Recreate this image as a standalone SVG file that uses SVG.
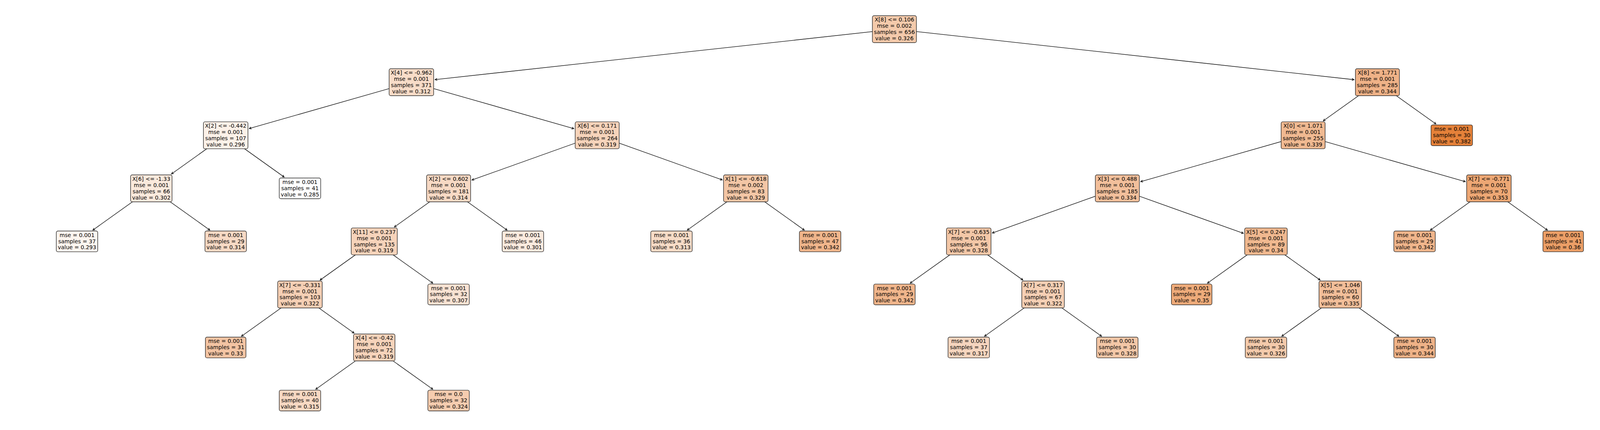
<svg xmlns="http://www.w3.org/2000/svg" width="4199" height="1101" viewBox="0 0 4199 1101">
<style>
.b{stroke:#2b2b2b;stroke-width:1.4}
.t{font-family:"DejaVu Sans","Liberation Sans",sans-serif;font-size:13.9px;text-anchor:middle;fill:#000}
.e{stroke:#000;stroke-width:1.3;fill:none;marker-end:url(#ah)}
</style>
<defs>
<marker id="ah" markerUnits="userSpaceOnUse" markerWidth="12" markerHeight="12" refX="0" refY="0" orient="auto" overflow="visible">
<path d="M-5.6,-2.8 L0,0 L-5.6,2.8" fill="none" stroke="#000" stroke-width="1.3"/>
</marker>
</defs>
<rect x="0" y="0" width="4199" height="1101" fill="#fff"/>
<g id="connectors">
<path class="e" d="M2289.7,74.7 L1113.66,203.91"/>
<path class="e" d="M2289.7,74.7 L3466.39,203.98"/>
<path class="e" d="M1053.2,210.55 L638.08,329.15"/>
<path class="e" d="M1053.2,210.55 L1469.08,329.34"/>
<path class="e" d="M577.7,346.4 L438.95,445.43"/>
<path class="e" d="M577.7,346.4 L727.48,453.38"/>
<path class="e" d="M387.4,482.25 L237.62,589.23"/>
<path class="e" d="M387.4,482.25 L537.28,589.23"/>
<path class="e" d="M1528.8,346.4 L1208.07,460.94"/>
<path class="e" d="M1528.8,346.4 L1848.98,460.71"/>
<path class="e" d="M1148.4,482.25 L1009.65,581.28"/>
<path class="e" d="M1148.4,482.25 L1298.18,589.23"/>
<path class="e" d="M958.1,618.1 L819.45,717.13"/>
<path class="e" d="M958.1,618.1 L1107.98,725.08"/>
<path class="e" d="M767.9,753.95 L618.12,860.93"/>
<path class="e" d="M767.9,753.95 L906.55,852.98"/>
<path class="e" d="M958.1,889.8 L808.32,996.78"/>
<path class="e" d="M958.1,889.8 L1107.98,996.78"/>
<path class="e" d="M1909.3,482.25 L1759.42,589.23"/>
<path class="e" d="M1909.3,482.25 L2059.08,589.23"/>
<path class="e" d="M3526.2,210.55 L3387.55,309.58"/>
<path class="e" d="M3526.2,210.55 L3676.08,317.53"/>
<path class="e" d="M3336,346.4 L2920.12,465.19"/>
<path class="e" d="M3336,346.4 L3751.23,465"/>
<path class="e" d="M2860.4,482.25 L2540.32,596.56"/>
<path class="e" d="M2860.4,482.25 L3183.08,597.45"/>
<path class="e" d="M2480,618.1 L2330.12,725.08"/>
<path class="e" d="M2480,618.1 L2618.65,717.13"/>
<path class="e" d="M2670.2,753.95 L2520.42,860.93"/>
<path class="e" d="M2670.2,753.95 L2819.98,860.93"/>
<path class="e" d="M3240.9,618.1 L3091.12,725.08"/>
<path class="e" d="M3240.9,618.1 L3379.55,717.13"/>
<path class="e" d="M3431.1,753.95 L3281.32,860.93"/>
<path class="e" d="M3431.1,753.95 L3580.88,860.93"/>
<path class="e" d="M3811.6,482.25 L3661.72,589.23"/>
<path class="e" d="M3811.6,482.25 L3961.38,589.23"/>
</g>
<g id="n0" transform="translate(2289.7,74.7)"><rect class="b" x="-56.35" y="-34.5" width="112.7" height="69" rx="4.2" fill="#f4caab"/><text class="t"><tspan x="0" y="-19.35">X[8] &lt;= 0.106</tspan><tspan x="0" y="-3.45">mse = 0.002</tspan><tspan x="0" y="12.45">samples = 656</tspan><tspan x="0" y="28.35">value = 0.326</tspan></text></g>
<g id="n1" transform="translate(1053.2,210.55)"><rect class="b" x="-57" y="-34.5" width="114" height="69" rx="4.2" fill="#f8dcc8"/><text class="t"><tspan x="0" y="-19.35">X[4] &lt;= -0.962</tspan><tspan x="0" y="-3.45">mse = 0.001</tspan><tspan x="0" y="12.45">samples = 371</tspan><tspan x="0" y="28.35">value = 0.312</tspan></text></g>
<g id="n2" transform="translate(577.7,346.4)"><rect class="b" x="-57" y="-34.5" width="114" height="69" rx="4.2" fill="#fcf1e8"/><text class="t"><tspan x="0" y="-19.35">X[2] &lt;= -0.442</tspan><tspan x="0" y="-3.45">mse = 0.001</tspan><tspan x="0" y="12.45">samples = 107</tspan><tspan x="0" y="28.35">value = 0.296</tspan></text></g>
<g id="n3" transform="translate(387.4,482.25)"><rect class="b" x="-53.05" y="-34.5" width="106.1" height="69" rx="4.2" fill="#fae9dc"/><text class="t"><tspan x="0" y="-19.35">X[6] &lt;= -1.33</tspan><tspan x="0" y="-3.45">mse = 0.001</tspan><tspan x="0" y="12.45">samples = 66</tspan><tspan x="0" y="28.35">value = 0.302</tspan></text></g>
<g id="n4" transform="translate(197.2,618.1)"><rect class="b" x="-53.05" y="-26.55" width="106.1" height="53.1" rx="4.2" fill="#fdf5ef"/><text class="t"><tspan x="0" y="-11.4">mse = 0.001</tspan><tspan x="0" y="4.5">samples = 37</tspan><tspan x="0" y="20.4">value = 0.293</tspan></text></g>
<g id="n5" transform="translate(577.7,618.1)"><rect class="b" x="-53.05" y="-26.55" width="106.1" height="53.1" rx="4.2" fill="#f7d9c4"/><text class="t"><tspan x="0" y="-11.4">mse = 0.001</tspan><tspan x="0" y="4.5">samples = 29</tspan><tspan x="0" y="20.4">value = 0.314</tspan></text></g>
<g id="n6" transform="translate(767.9,482.25)"><rect class="b" x="-53.05" y="-26.55" width="106.1" height="53.1" rx="4.2" fill="#ffffff"/><text class="t"><tspan x="0" y="-11.4">mse = 0.001</tspan><tspan x="0" y="4.5">samples = 41</tspan><tspan x="0" y="20.4">value = 0.285</tspan></text></g>
<g id="n7" transform="translate(1528.8,346.4)"><rect class="b" x="-56.35" y="-34.5" width="112.7" height="69" rx="4.2" fill="#f6d3ba"/><text class="t"><tspan x="0" y="-19.35">X[6] &lt;= 0.171</tspan><tspan x="0" y="-3.45">mse = 0.001</tspan><tspan x="0" y="12.45">samples = 264</tspan><tspan x="0" y="28.35">value = 0.319</tspan></text></g>
<g id="n8" transform="translate(1148.4,482.25)"><rect class="b" x="-56.35" y="-34.5" width="112.7" height="69" rx="4.2" fill="#f7d9c4"/><text class="t"><tspan x="0" y="-19.35">X[2] &lt;= 0.602</tspan><tspan x="0" y="-3.45">mse = 0.001</tspan><tspan x="0" y="12.45">samples = 181</tspan><tspan x="0" y="28.35">value = 0.314</tspan></text></g>
<g id="n9" transform="translate(958.1,618.1)"><rect class="b" x="-58.95" y="-34.5" width="117.9" height="69" rx="4.2" fill="#f6d3ba"/><text class="t"><tspan x="0" y="-19.35">X[11] &lt;= 0.237</tspan><tspan x="0" y="-3.45">mse = 0.001</tspan><tspan x="0" y="12.45">samples = 135</tspan><tspan x="0" y="28.35">value = 0.319</tspan></text></g>
<g id="n10" transform="translate(767.9,753.95)"><rect class="b" x="-57" y="-34.5" width="114" height="69" rx="4.2" fill="#f5cfb4"/><text class="t"><tspan x="0" y="-19.35">X[7] &lt;= -0.331</tspan><tspan x="0" y="-3.45">mse = 0.001</tspan><tspan x="0" y="12.45">samples = 103</tspan><tspan x="0" y="28.35">value = 0.322</tspan></text></g>
<g id="n11" transform="translate(577.7,889.8)"><rect class="b" x="-51.9" y="-26.55" width="103.8" height="53.1" rx="4.2" fill="#f3c4a3"/><text class="t"><tspan x="0" y="-11.4">mse = 0.001</tspan><tspan x="0" y="4.5">samples = 31</tspan><tspan x="0" y="20.4">value = 0.33</tspan></text></g>
<g id="n12" transform="translate(958.1,889.8)"><rect class="b" x="-53.05" y="-34.5" width="106.1" height="69" rx="4.2" fill="#f6d3ba"/><text class="t"><tspan x="0" y="-19.35">X[4] &lt;= -0.42</tspan><tspan x="0" y="-3.45">mse = 0.001</tspan><tspan x="0" y="12.45">samples = 72</tspan><tspan x="0" y="28.35">value = 0.319</tspan></text></g>
<g id="n13" transform="translate(767.9,1025.65)"><rect class="b" x="-53.05" y="-26.55" width="106.1" height="53.1" rx="4.2" fill="#f7d8c2"/><text class="t"><tspan x="0" y="-11.4">mse = 0.001</tspan><tspan x="0" y="4.5">samples = 40</tspan><tspan x="0" y="20.4">value = 0.315</tspan></text></g>
<g id="n14" transform="translate(1148.4,1025.65)"><rect class="b" x="-53.05" y="-26.55" width="106.1" height="53.1" rx="4.2" fill="#f5ccaf"/><text class="t"><tspan x="0" y="-11.4">mse = 0.0</tspan><tspan x="0" y="4.5">samples = 32</tspan><tspan x="0" y="20.4">value = 0.324</tspan></text></g>
<g id="n15" transform="translate(1148.4,753.95)"><rect class="b" x="-53.05" y="-26.55" width="106.1" height="53.1" rx="4.2" fill="#f9e2d2"/><text class="t"><tspan x="0" y="-11.4">mse = 0.001</tspan><tspan x="0" y="4.5">samples = 32</tspan><tspan x="0" y="20.4">value = 0.307</tspan></text></g>
<g id="n16" transform="translate(1338.6,618.1)"><rect class="b" x="-53.05" y="-26.55" width="106.1" height="53.1" rx="4.2" fill="#fbeade"/><text class="t"><tspan x="0" y="-11.4">mse = 0.001</tspan><tspan x="0" y="4.5">samples = 46</tspan><tspan x="0" y="20.4">value = 0.301</tspan></text></g>
<g id="n17" transform="translate(1909.3,482.25)"><rect class="b" x="-57" y="-34.5" width="114" height="69" rx="4.2" fill="#f3c6a5"/><text class="t"><tspan x="0" y="-19.35">X[1] &lt;= -0.618</tspan><tspan x="0" y="-3.45">mse = 0.002</tspan><tspan x="0" y="12.45">samples = 83</tspan><tspan x="0" y="28.35">value = 0.329</tspan></text></g>
<g id="n18" transform="translate(1719,618.1)"><rect class="b" x="-53.05" y="-26.55" width="106.1" height="53.1" rx="4.2" fill="#f7dbc6"/><text class="t"><tspan x="0" y="-11.4">mse = 0.001</tspan><tspan x="0" y="4.5">samples = 36</tspan><tspan x="0" y="20.4">value = 0.313</tspan></text></g>
<g id="n19" transform="translate(2099.5,618.1)"><rect class="b" x="-53.05" y="-26.55" width="106.1" height="53.1" rx="4.2" fill="#f0b58b"/><text class="t"><tspan x="0" y="-11.4">mse = 0.001</tspan><tspan x="0" y="4.5">samples = 47</tspan><tspan x="0" y="20.4">value = 0.342</tspan></text></g>
<g id="n20" transform="translate(3526.2,210.55)"><rect class="b" x="-56.35" y="-34.5" width="112.7" height="69" rx="4.2" fill="#efb287"/><text class="t"><tspan x="0" y="-19.35">X[8] &lt;= 1.771</tspan><tspan x="0" y="-3.45">mse = 0.001</tspan><tspan x="0" y="12.45">samples = 285</tspan><tspan x="0" y="28.35">value = 0.344</tspan></text></g>
<g id="n21" transform="translate(3336,346.4)"><rect class="b" x="-56.35" y="-34.5" width="112.7" height="69" rx="4.2" fill="#f0b991"/><text class="t"><tspan x="0" y="-19.35">X[0] &lt;= 1.071</tspan><tspan x="0" y="-3.45">mse = 0.001</tspan><tspan x="0" y="12.45">samples = 255</tspan><tspan x="0" y="28.35">value = 0.339</tspan></text></g>
<g id="n22" transform="translate(2860.4,482.25)"><rect class="b" x="-56.35" y="-34.5" width="112.7" height="69" rx="4.2" fill="#f2bf9b"/><text class="t"><tspan x="0" y="-19.35">X[3] &lt;= 0.488</tspan><tspan x="0" y="-3.45">mse = 0.001</tspan><tspan x="0" y="12.45">samples = 185</tspan><tspan x="0" y="28.35">value = 0.334</tspan></text></g>
<g id="n23" transform="translate(2480,618.1)"><rect class="b" x="-57" y="-34.5" width="114" height="69" rx="4.2" fill="#f3c7a7"/><text class="t"><tspan x="0" y="-19.35">X[7] &lt;= -0.635</tspan><tspan x="0" y="-3.45">mse = 0.001</tspan><tspan x="0" y="12.45">samples = 96</tspan><tspan x="0" y="28.35">value = 0.328</tspan></text></g>
<g id="n24" transform="translate(2289.7,753.95)"><rect class="b" x="-53.05" y="-26.55" width="106.1" height="53.1" rx="4.2" fill="#f0b58b"/><text class="t"><tspan x="0" y="-11.4">mse = 0.001</tspan><tspan x="0" y="4.5">samples = 29</tspan><tspan x="0" y="20.4">value = 0.342</tspan></text></g>
<g id="n25" transform="translate(2670.2,753.95)"><rect class="b" x="-54.5" y="-34.5" width="109" height="69" rx="4.2" fill="#f5cfb4"/><text class="t"><tspan x="0" y="-19.35">X[7] &lt;= 0.317</tspan><tspan x="0" y="-3.45">mse = 0.001</tspan><tspan x="0" y="12.45">samples = 67</tspan><tspan x="0" y="28.35">value = 0.322</tspan></text></g>
<g id="n26" transform="translate(2480,889.8)"><rect class="b" x="-53.05" y="-26.55" width="106.1" height="53.1" rx="4.2" fill="#f6d5be"/><text class="t"><tspan x="0" y="-11.4">mse = 0.001</tspan><tspan x="0" y="4.5">samples = 37</tspan><tspan x="0" y="20.4">value = 0.317</tspan></text></g>
<g id="n27" transform="translate(2860.4,889.8)"><rect class="b" x="-53.05" y="-26.55" width="106.1" height="53.1" rx="4.2" fill="#f3c7a7"/><text class="t"><tspan x="0" y="-11.4">mse = 0.001</tspan><tspan x="0" y="4.5">samples = 30</tspan><tspan x="0" y="20.4">value = 0.328</tspan></text></g>
<g id="n28" transform="translate(3240.9,618.1)"><rect class="b" x="-54.5" y="-34.5" width="109" height="69" rx="4.2" fill="#f0b88f"/><text class="t"><tspan x="0" y="-19.35">X[5] &lt;= 0.247</tspan><tspan x="0" y="-3.45">mse = 0.001</tspan><tspan x="0" y="12.45">samples = 89</tspan><tspan x="0" y="28.35">value = 0.34</tspan></text></g>
<g id="n29" transform="translate(3050.7,753.95)"><rect class="b" x="-51.9" y="-26.55" width="103.8" height="53.1" rx="4.2" fill="#eeab7a"/><text class="t"><tspan x="0" y="-11.4">mse = 0.001</tspan><tspan x="0" y="4.5">samples = 29</tspan><tspan x="0" y="20.4">value = 0.35</tspan></text></g>
<g id="n30" transform="translate(3431.1,753.95)"><rect class="b" x="-54.5" y="-34.5" width="109" height="69" rx="4.2" fill="#f2be99"/><text class="t"><tspan x="0" y="-19.35">X[5] &lt;= 1.046</tspan><tspan x="0" y="-3.45">mse = 0.001</tspan><tspan x="0" y="12.45">samples = 60</tspan><tspan x="0" y="28.35">value = 0.335</tspan></text></g>
<g id="n31" transform="translate(3240.9,889.8)"><rect class="b" x="-53.05" y="-26.55" width="106.1" height="53.1" rx="4.2" fill="#f4caab"/><text class="t"><tspan x="0" y="-11.4">mse = 0.001</tspan><tspan x="0" y="4.5">samples = 30</tspan><tspan x="0" y="20.4">value = 0.326</tspan></text></g>
<g id="n32" transform="translate(3621.3,889.8)"><rect class="b" x="-53.05" y="-26.55" width="106.1" height="53.1" rx="4.2" fill="#efb287"/><text class="t"><tspan x="0" y="-11.4">mse = 0.001</tspan><tspan x="0" y="4.5">samples = 30</tspan><tspan x="0" y="20.4">value = 0.344</tspan></text></g>
<g id="n33" transform="translate(3811.6,482.25)"><rect class="b" x="-57" y="-34.5" width="114" height="69" rx="4.2" fill="#eda774"/><text class="t"><tspan x="0" y="-19.35">X[7] &lt;= -0.771</tspan><tspan x="0" y="-3.45">mse = 0.001</tspan><tspan x="0" y="12.45">samples = 70</tspan><tspan x="0" y="28.35">value = 0.353</tspan></text></g>
<g id="n34" transform="translate(3621.3,618.1)"><rect class="b" x="-53.05" y="-26.55" width="106.1" height="53.1" rx="4.2" fill="#f0b58b"/><text class="t"><tspan x="0" y="-11.4">mse = 0.001</tspan><tspan x="0" y="4.5">samples = 29</tspan><tspan x="0" y="20.4">value = 0.342</tspan></text></g>
<g id="n35" transform="translate(4001.8,618.1)"><rect class="b" x="-51.9" y="-26.55" width="103.8" height="53.1" rx="4.2" fill="#eb9e66"/><text class="t"><tspan x="0" y="-11.4">mse = 0.001</tspan><tspan x="0" y="4.5">samples = 41</tspan><tspan x="0" y="20.4">value = 0.36</tspan></text></g>
<g id="n36" transform="translate(3716.5,346.4)"><rect class="b" x="-53.05" y="-26.55" width="106.1" height="53.1" rx="4.2" fill="#e58139"/><text class="t"><tspan x="0" y="-11.4">mse = 0.001</tspan><tspan x="0" y="4.5">samples = 30</tspan><tspan x="0" y="20.4">value = 0.382</tspan></text></g>
</svg>
